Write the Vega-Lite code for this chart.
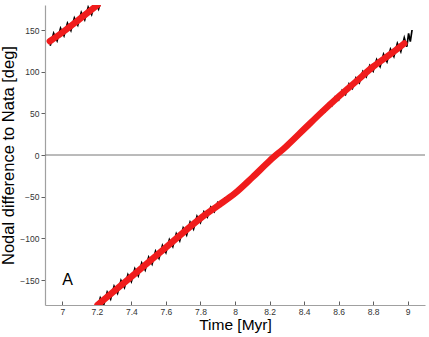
{
  "$schema": "https://vega.github.io/schema/vega-lite/v6.json",
  "width": 380,
  "height": 300,
  "autosize": {"type": "none"},
  "padding": {"left": 45, "top": 5, "right": 4, "bottom": 32},
  "background": "white",
  "config": {
    "view": {"stroke": null},
    "font": "Liberation Sans",
    "axis": {
      "grid": false,
      "domainColor": "#a0a0a0",
      "domainWidth": 1.2,
      "tickColor": "#606060",
      "labelFont": "Liberation Sans",
      "labelFontSize": 8.5,
      "labelColor": "#333333",
      "titleFont": "Liberation Sans",
      "titleFontSize": 15.5,
      "titleFontWeight": "normal",
      "titleColor": "#000000"
    }
  },
  "datasets": {
    "black": [
      {"g": 2, "x": 6.93, "y": 131},
      {"g": 2, "x": 6.95, "y": 146},
      {"g": 2, "x": 6.97, "y": 137},
      {"g": 2, "x": 6.99, "y": 152},
      {"g": 2, "x": 7.01, "y": 143},
      {"g": 2, "x": 7.03, "y": 158.2},
      {"g": 2, "x": 7.05, "y": 149.4},
      {"g": 2, "x": 7.07, "y": 164.6},
      {"g": 2, "x": 7.09, "y": 155.8},
      {"g": 2, "x": 7.11, "y": 171},
      {"g": 2, "x": 7.13, "y": 162.2},
      {"g": 2, "x": 7.15, "y": 177.4},
      {"g": 2, "x": 7.17, "y": 168.6},
      {"g": 2, "x": 7.19, "y": 183.8},
      {"g": 2, "x": 7.21, "y": 175},
      {"g": 2, "x": 7.23, "y": 190.2},
      {"g": 1, "x": 7.20, "y": -187},
      {"g": 1, "x": 7.22, "y": -171.5},
      {"g": 1, "x": 7.24, "y": -180},
      {"g": 1, "x": 7.26, "y": -164.5},
      {"g": 1, "x": 7.28, "y": -173},
      {"g": 1, "x": 7.30, "y": -157.5},
      {"g": 1, "x": 7.32, "y": -166},
      {"g": 1, "x": 7.34, "y": -150.5},
      {"g": 1, "x": 7.36, "y": -159},
      {"g": 1, "x": 7.38, "y": -143.5},
      {"g": 1, "x": 7.40, "y": -152},
      {"g": 1, "x": 7.42, "y": -136.5},
      {"g": 1, "x": 7.44, "y": -145},
      {"g": 1, "x": 7.46, "y": -129.5},
      {"g": 1, "x": 7.48, "y": -138},
      {"g": 1, "x": 7.50, "y": -122.5},
      {"g": 1, "x": 7.52, "y": -131},
      {"g": 1, "x": 7.54, "y": -115.5},
      {"g": 1, "x": 7.56, "y": -124},
      {"g": 1, "x": 7.58, "y": -108.5},
      {"g": 1, "x": 7.60, "y": -117},
      {"g": 1, "x": 7.62, "y": -101.5},
      {"g": 1, "x": 7.64, "y": -110},
      {"g": 1, "x": 7.66, "y": -94.5},
      {"g": 1, "x": 7.68, "y": -103},
      {"g": 1, "x": 7.70, "y": -87.5},
      {"g": 1, "x": 7.72, "y": -96},
      {"g": 1, "x": 7.74, "y": -80.5},
      {"g": 1, "x": 7.76, "y": -89},
      {"g": 1, "x": 7.78, "y": -73.5},
      {"g": 1, "x": 7.80, "y": -81},
      {"g": 1, "x": 7.82, "y": -68},
      {"g": 1, "x": 7.84, "y": -74.5},
      {"g": 1, "x": 7.86, "y": -62.5},
      {"g": 1, "x": 7.88, "y": -68},
      {"g": 1, "x": 7.90, "y": -57},
      {"g": 1, "x": 7.92, "y": -61},
      {"g": 1, "x": 7.94, "y": -52},
      {"g": 1, "x": 7.96, "y": -55},
      {"g": 1, "x": 7.98, "y": -46.5},
      {"g": 1, "x": 8.00, "y": -48.5},
      {"g": 1, "x": 8.02, "y": -40.2},
      {"g": 1, "x": 8.04, "y": -40.4},
      {"g": 1, "x": 8.06, "y": -33.1},
      {"g": 1, "x": 8.08, "y": -32.3},
      {"g": 1, "x": 8.10, "y": -25.5},
      {"g": 1, "x": 8.12, "y": -24.5},
      {"g": 1, "x": 8.14, "y": -17.5},
      {"g": 1, "x": 8.16, "y": -16.5},
      {"g": 1, "x": 8.18, "y": -9.5},
      {"g": 1, "x": 8.20, "y": -8.5},
      {"g": 1, "x": 8.22, "y": -1.9},
      {"g": 1, "x": 8.24, "y": -1.3},
      {"g": 1, "x": 8.26, "y": 5.3},
      {"g": 1, "x": 8.28, "y": 5.9},
      {"g": 1, "x": 8.30, "y": 12.5},
      {"g": 1, "x": 8.32, "y": 13.5},
      {"g": 1, "x": 8.34, "y": 20.5},
      {"g": 1, "x": 8.36, "y": 21.5},
      {"g": 1, "x": 8.38, "y": 28.5},
      {"g": 1, "x": 8.40, "y": 29.5},
      {"g": 1, "x": 8.42, "y": 37},
      {"g": 1, "x": 8.44, "y": 37},
      {"g": 1, "x": 8.46, "y": 45.5},
      {"g": 1, "x": 8.48, "y": 44.5},
      {"g": 1, "x": 8.50, "y": 54},
      {"g": 1, "x": 8.52, "y": 51.8},
      {"g": 1, "x": 8.54, "y": 61.6},
      {"g": 1, "x": 8.56, "y": 58.9},
      {"g": 1, "x": 8.58, "y": 69.7},
      {"g": 1, "x": 8.60, "y": 66},
      {"g": 1, "x": 8.62, "y": 77.6},
      {"g": 1, "x": 8.64, "y": 72.7},
      {"g": 1, "x": 8.66, "y": 85.3},
      {"g": 1, "x": 8.68, "y": 79.9},
      {"g": 1, "x": 8.70, "y": 92.5},
      {"g": 1, "x": 8.72, "y": 86.6},
      {"g": 1, "x": 8.74, "y": 100.2},
      {"g": 1, "x": 8.76, "y": 93.8},
      {"g": 1, "x": 8.78, "y": 107.4},
      {"g": 1, "x": 8.80, "y": 100.5},
      {"g": 1, "x": 8.82, "y": 114.5},
      {"g": 1, "x": 8.84, "y": 106},
      {"g": 1, "x": 8.86, "y": 121},
      {"g": 1, "x": 8.88, "y": 112},
      {"g": 1, "x": 8.90, "y": 127},
      {"g": 1, "x": 8.92, "y": 118.2},
      {"g": 1, "x": 8.94, "y": 133.9},
      {"g": 1, "x": 8.96, "y": 124.1},
      {"g": 1, "x": 8.98, "y": 140.8},
      {"g": 1, "x": 8.995, "y": 130},
      {"g": 1, "x": 9.005, "y": 146},
      {"g": 1, "x": 9.015, "y": 136},
      {"g": 1, "x": 9.025, "y": 150}
    ],
    "red": [
      {"g": 2, "x": 6.928, "y": 136.5},
      {"g": 2, "x": 7.0, "y": 147},
      {"g": 2, "x": 7.1, "y": 163},
      {"g": 2, "x": 7.204, "y": 180},
      {"g": 1, "x": 7.204, "y": -180},
      {"g": 1, "x": 7.4, "y": -146},
      {"g": 1, "x": 7.6, "y": -111},
      {"g": 1, "x": 7.8, "y": -76},
      {"g": 1, "x": 7.9, "y": -61},
      {"g": 1, "x": 8.0, "y": -46},
      {"g": 1, "x": 8.1, "y": -27},
      {"g": 1, "x": 8.2, "y": -7},
      {"g": 1, "x": 8.3, "y": 11},
      {"g": 1, "x": 8.4, "y": 31},
      {"g": 1, "x": 8.5, "y": 51},
      {"g": 1, "x": 8.6, "y": 70},
      {"g": 1, "x": 8.7, "y": 88},
      {"g": 1, "x": 8.8, "y": 106},
      {"g": 1, "x": 8.9, "y": 121},
      {"g": 1, "x": 8.98, "y": 133.8}
    ],
    "zero": [{"y": 0}],
    "label": [{"x": 7.03, "y": -150, "text": "A"}]
  },
  "encoding": {
    "x": {
      "field": "x",
      "type": "quantitative",
      "scale": {"domain": [6.9, 9.1], "nice": false, "zero": false},
      "axis": {
        "title": "Time [Myr]",
        "values": [7, 7.2, 7.4, 7.6, 7.8, 8, 8.2, 8.4, 8.6, 8.8, 9],
        "format": "~g",
        "tickSize": -4,
        "labelPadding": 6,
        "titlePadding": 2
      }
    },
    "y": {
      "field": "y",
      "type": "quantitative",
      "scale": {"domain": [-180, 180], "nice": false, "zero": false},
      "axis": {
        "title": "Nodal difference to Nata [deg]",
        "titleFontSize": 16.5,
        "values": [-150, -100, -50, 0, 50, 100, 150],
        "tickSize": 4,
        "labelPadding": 2,
        "titlePadding": 3
      }
    }
  },
  "layer": [
    {
      "data": {"name": "zero"},
      "mark": {"type": "rule", "color": "#777777", "strokeWidth": 1},
      "encoding": {"x": null}
    },
    {
      "data": {"name": "black"},
      "mark": {"type": "line", "color": "#000000", "strokeWidth": 1.7, "clip": true},
      "encoding": {"detail": {"field": "g", "type": "nominal"}, "order": {"field": "x", "type": "quantitative"}}
    },
    {
      "data": {"name": "red"},
      "mark": {"type": "line", "color": "#f01c1c", "strokeWidth": 6.5, "strokeCap": "round", "interpolate": "monotone", "clip": true},
      "encoding": {"detail": {"field": "g", "type": "nominal"}, "order": {"field": "x", "type": "quantitative"}}
    },
    {
      "data": {"name": "label"},
      "mark": {"type": "text", "fontSize": 16, "color": "#000000", "font": "Liberation Sans"},
      "encoding": {"text": {"field": "text"}}
    }
  ]
}
